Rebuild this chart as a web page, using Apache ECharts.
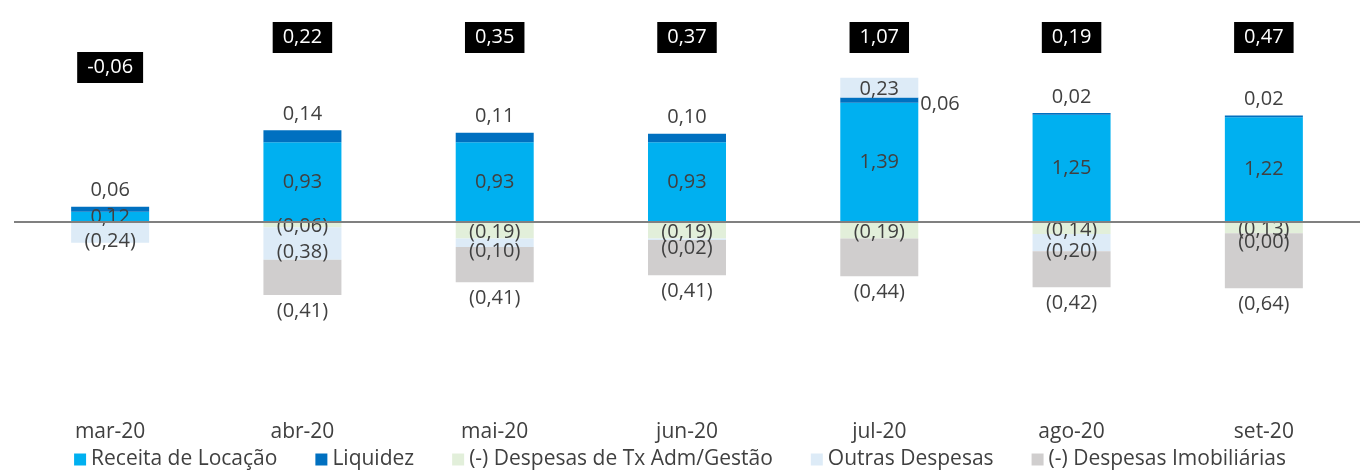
<!DOCTYPE html>
<html>
<head>
<meta charset="utf-8">
<script src="https://cdn.jsdelivr.net/npm/echarts@6/dist/echarts.min.js"></script>
<style>
  html, body { margin: 0; padding: 0; background: #fff; }
  #main { width: 1360px; height: 475px; }
</style>
</head>
<body>
<div id="main"></div>
<script>
var meses = ['mar-20', 'abr-20', 'mai-20', 'jun-20', 'jul-20', 'ago-20', 'set-20'];
var receita = [0.12, 0.93, 0.93, 0.93, 1.39, 1.25, 1.22];
var liquidez = [0.06, 0.14, 0.11, 0.10, 0.06, 0.02, 0.02];
var txAdm = [0, -0.06, -0.19, -0.19, -0.19, -0.14, -0.13];
var outras = [-0.24, -0.38, -0.10, -0.02, 0.23, -0.20, 0];
var imob = [0, -0.41, -0.41, -0.41, -0.44, -0.42, -0.64];
var totais = [-0.06, 0.22, 0.35, 0.37, 1.07, 0.19, 0.47];

var corTexto = '#404040';
var fonte = 'Open Sans';

function num(v) {
    return Math.abs(v).toFixed(2).replace('.', ',');
}
function neg(v) {
    return v > 0 ? num(v) : '(' + num(v) + ')';
}

var baseLabel = {
    show: true,
    color: corTexto,
    fontFamily: fonte,
    fontSize: 20
};

function getChart() {
    var dom = document.getElementById('main');
    var myChart = echarts.init(dom);
    var option = null;

    // rótulo da liquidez vai para o lado quando há "outras" positivas em cima
    var liqData = liquidez.map(function (v, i) {
        if (outras[i] > 0) {
            return { value: v, label: { position: 'right', distance: 2, offset: [0, 4] } };
        }
        return v;
    });
    var outrasData = outras.map(function (v) {
        return { value: v, label: { offset: v > 0 ? [0, 2] : [0, 9] } };
    });
    var totalData = totais.map(function (v, i) {
        return [i, v < 0 ? 1.8 : 2.15];
    });

    option = {
        animation: false,
        textStyle: { fontFamily: fonte },
        grid: {
            left: 14,
            right: -8,
            top: 16,
            bottom: 64
        },
        legend: {
            bottom: 0,
            left: 'center',
            itemWidth: 12,
            itemHeight: 12,
            itemGap: 38,
            icon: 'rect',
            textStyle: { color: corTexto, fontSize: 21, fontFamily: fonte },
            data: ['Receita de Locação', 'Liquidez', '(-) Despesas de Tx Adm/Gestão', 'Outras Despesas', '(-) Despesas Imobiliárias']
        },
        xAxis: {
            type: 'category',
            data: meses,
            axisLine: { show: false, onZero: false },
            axisTick: { show: false },
            axisLabel: { color: corTexto, fontSize: 21, fontFamily: fonte, margin: 11 }
        },
        yAxis: {
            type: 'value',
            min: -2.2,
            max: 2.4,
            show: false,
            splitLine: { show: false }
        },
        series: [
            {
                name: 'Receita de Locação',
                type: 'bar',
                stack: 'total',
                barWidth: 78,
                itemStyle: { color: '#00B0F0' },
                label: Object.assign({}, baseLabel, {
                    position: 'inside',
                    formatter: function (p) { return num(p.value); }
                }),
                data: receita,
                markLine: {
                    silent: true,
                    symbol: 'none',
                    label: { show: false },
                    lineStyle: { color: '#808080', width: 2, type: 'solid' },
                    data: [{ yAxis: 0 }]
                }
            },
            {
                name: 'Liquidez',
                type: 'bar',
                stack: 'total',
                itemStyle: { color: '#0070C0' },
                label: Object.assign({}, baseLabel, {
                    position: 'top',
                    distance: 6,
                    formatter: function (p) { return num(p.value); }
                }),
                data: liqData
            },
            {
                name: '(-) Despesas de Tx Adm/Gestão',
                type: 'bar',
                stack: 'total',
                itemStyle: { color: '#E2EFDA' },
                label: Object.assign({}, baseLabel, {
                    position: 'inside',
                    offset: [0, 2],
                    formatter: function (p) { return p.value === 0 ? '-' : neg(p.value); }
                }),
                data: txAdm
            },
            {
                name: 'Outras Despesas',
                type: 'bar',
                stack: 'total',
                itemStyle: { color: '#DDEBF7' },
                label: Object.assign({}, baseLabel, {
                    position: 'inside',
                    formatter: function (p) { return neg(p.value); }
                }),
                data: outrasData
            },
            {
                name: '(-) Despesas Imobiliárias',
                type: 'bar',
                stack: 'total',
                itemStyle: { color: '#D0CECE' },
                label: Object.assign({}, baseLabel, {
                    position: 'bottom',
                    distance: 6,
                    formatter: function (p) { return p.value === 0 ? '' : neg(p.value); }
                }),
                data: imob
            },
            {
                name: 'Total',
                type: 'scatter',
                silent: true,
                symbol: 'rect',
                symbolSize: 1,
                itemStyle: { color: 'rgba(0,0,0,0)', opacity: 1 },
                label: {
                    show: true,
                    position: 'inside',
                    color: '#fff',
                    fontFamily: fonte,
                    fontSize: 20,
                    backgroundColor: '#000',
                    padding: [6, 10, 5, 10],
                    formatter: function (p) {
                        var v = totais[p.dataIndex];
                        return (v < 0 ? '-' : '') + num(v);
                    }
                },
                data: totalData
            }
        ]
    };
    if (option && typeof option === "object") {
        myChart.setOption(option, true);
    }
}
getChart();
</script>
</body>
</html>
